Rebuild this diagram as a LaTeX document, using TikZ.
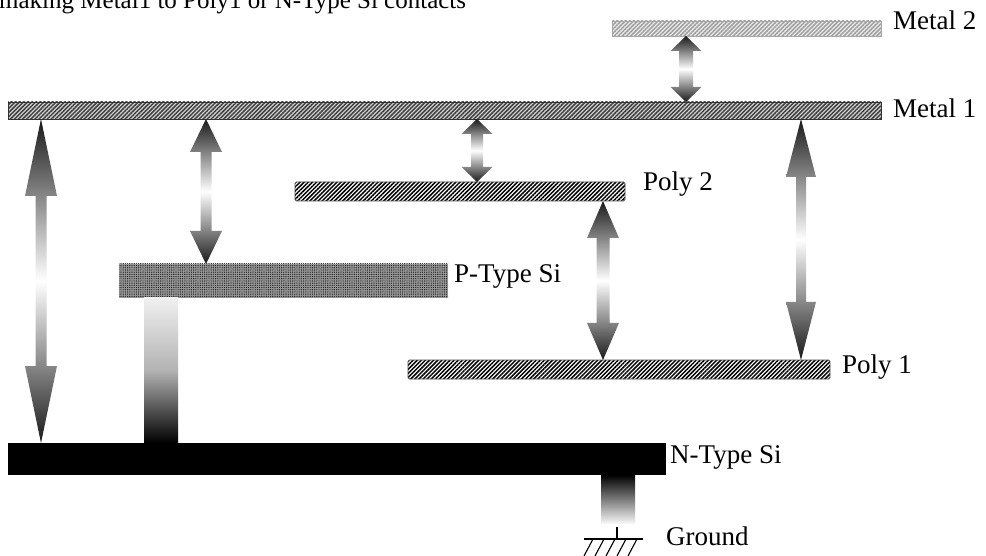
\documentclass[tikz,border=0pt]{standalone}
\usepackage{fontspec}
\setmainfont{Liberation Serif}
\usetikzlibrary{calc,patterns.meta}

\newcommand\lblfont{\fontsize{27}{32}\selectfont}
\newcommand\capfont{\fontsize{25}{30}\selectfont}

% double-headed arrow with a dark-white-dark shading;
% #1 x position, #2 upper layer, #3 lower layer,
% #4 head length, #5 shaft half width, #6 head half width
\newcommand\gradarrow[6]{%
  \shade[arrowshade] let \p1=(#2.south), \p2=(#3.north) in
    (#1pt,\y1) -- (#1pt+#6pt,\y1-#4pt) -- (#1pt+#5pt,\y1-#4pt)
    -- (#1pt+#5pt,\y2+#4pt) -- (#1pt+#6pt,\y2+#4pt) -- (#1pt,\y2)
    -- (#1pt-#6pt,\y2+#4pt) -- (#1pt-#5pt,\y2+#4pt)
    -- (#1pt-#5pt,\y1-#4pt) -- (#1pt-#6pt,\y1-#4pt) -- cycle;}

\begin{document}
\begin{tikzpicture}[x=1pt,y=-1pt,
  layer/.style={rectangle,inner sep=0pt,outer sep=0pt,anchor=north west},
  metalone/.style={layer,draw=gray!40!black,line width=0.8pt,
    preaction={fill=gray!35},
    pattern={Lines[angle=45,distance=2.9pt,line width=1.5pt]},
    pattern color=gray!50!black},
  metaltwo/.style={layer,draw=gray!70,line width=0.8pt,
    preaction={fill=gray!15},
    pattern={Lines[angle=45,distance=2.9pt,line width=1.5pt]},
    pattern color=gray!75},
  poly/.style={layer,draw=gray!60!black,line width=0.8pt,rounded corners=1.5pt,
    preaction={fill=white,rounded corners=1.5pt},
    pattern={Lines[angle=45,distance=2.9pt,line width=1.5pt]},
    pattern color=black},
  psi/.style={layer,preaction={fill=black!40},
    pattern={Dots[distance=2.2pt,radius=0.7pt]},pattern color=black!85},
  nsi/.style={layer,fill=black},
  arrowshade/.style={top color=black!90,bottom color=black!90,middle color=white},
  lbl/.style={anchor=base west,inner sep=0pt,font=\lblfont},
  gnd/.style={line width=1.1pt,black}]

\useasboundingbox (0,0) rectangle (986,556);
\fill[white] (0,0) rectangle (986,556);

% caption, partly above the page edge
\node[anchor=base west,inner sep=0pt,font=\capfont] (cap) at (-1,9)
  {making Metal1 to Poly1 or N-Type Si contacts};

% layers
\node[metaltwo,minimum width=269,minimum height=15] (m2) at (612,21) {};
\node[metalone,minimum width=873,minimum height=17] (m1) at (8,102) {};
\node[poly,minimum width=330,minimum height=19] (p2) at (295,182) {};
\node[psi,minimum width=329,minimum height=34] (ps) at (119,264) {};
\node[poly,minimum width=422,minimum height=19] (p1) at (408,360) {};
\node[nsi,minimum width=658,minimum height=32] (ns) at (8,443) {};

% contact from P-type to N-type and the ground lead
\shade[top color=gray!12,bottom color=black,middle color=gray!60]
  (144,298) rectangle (178,443);
\shade[top color=black,bottom color=gray!8]
  (601,475) rectangle (635,523);

% ground symbol
\coordinate (gtop) at (617,527);
\coordinate (gmid) at (617,539);
\draw[gnd] (gtop) -- (gmid);
\draw[gnd] (584,539) -- (643,539);
\foreach \gx in {593,604,615,626,637}
  \draw[gnd] (\gx,539) -- ++(-9,17);

% labels
\node[lbl] (lm2) at (893,30) {Metal 2};
\node[lbl] (lm1) at (893,118) {Metal 1};
\node[lbl] (lp2) at (643,191) {Poly 2};
\node[lbl] (lps) at (454,283) {P-Type Si};
\node[lbl] (lp1) at (842,373) {Poly 1};
\node[lbl] (lns) at (670,463) {N-Type Si};
\node[lbl] (lg) at (666,545) {Ground};

% spacing arrows between layers
\gradarrow{686}{m2}{m1}{15}{7}{15.5}
\gradarrow{41}{m1}{ns}{77}{5.5}{16}
\gradarrow{206}{m1}{ps}{33}{5.5}{16}
\gradarrow{477}{m1}{p2}{15}{6}{15.5}
\gradarrow{603}{p2}{p1}{37}{6.5}{16}
\gradarrow{801}{m1}{p1}{58}{5}{15}
\end{tikzpicture}
\end{document}
